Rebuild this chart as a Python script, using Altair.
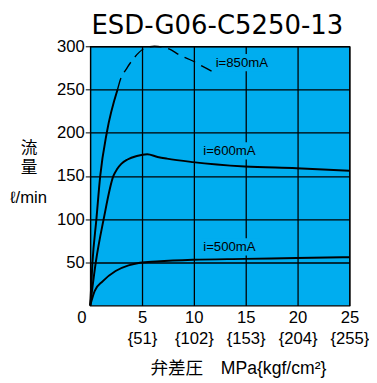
import json
import altair as alt
import pandas as pd

# ---- data ----
s850_x = [0, 0.22, 0.6, 0.97, 1.6, 2.64]
s850_y = [0, 50, 100, 150, 200, 250]

s850d_x = [2.64, 2.9, 3.5, 4.2, 5.15, 6.2, 7.6, 8.6, 9.9, 10.8, 12.1]
s850d_y = [250, 261, 274, 286, 297, 300, 297, 290, 283, 277, 269]

s600_x = [0, 0.54, 1.3, 2.24, 2.6, 3.0, 3.6, 4.5, 5.5, 6.5, 7.4, 9.9, 14.9, 19.9, 25]
s600_y = [0, 50, 100, 150, 158, 164, 169, 173, 175, 172, 170, 166, 161, 159, 156]

s500_x = [0, 0.44, 1.2, 2.45, 3.7, 4.8, 6.4, 9.9, 14.9, 19.9, 25]
s500_y = [0, 17, 28, 40, 46.5, 49.5, 51, 53, 54, 55, 56]

label_text = ["i=850mA", "i=600mA", "i=500mA"]
label_x = [12.1, 10.9, 10.9]
label_y = [281, 179, 68]

x_ticks = [0, 5, 10, 15, 20, 25]
x_kgf = ["", "{51}", "{102}", "{153}", "{204}", "{255}"]
y_ticks = [50, 100, 150, 200, 250, 300]

title_text = "ESD-G06-C5250-13"
x_title = "弁差圧　MPa{kgf/cm²}"
y_title = ["流", "量"]
y_unit = "ℓ/min"

# ---- styling ----
BLUE = "#00adef"
FONT = "Liberation Sans"
JP = "Liberation Sans, Noto Sans CJK JP"


def frame(xs, ys, name):
    return pd.DataFrame({"x": xs, "y": ys, "i": range(len(xs)), "s": name})


solid = pd.concat([frame(s850_x, s850_y, "850"),
                   frame(s600_x, s600_y, "600"),
                   frame(s500_x, s500_y, "500")])
dashed = frame(s850d_x, s850d_y, "850d")

labels = pd.DataFrame({"t": label_text, "x": label_x, "y": label_y})
labels["x0"] = labels["x"] - 0.2
labels["x1"] = labels["x"] + 5.4
labels["y0"] = labels["y"] - 10
labels["y1"] = labels["y"] + 10

xscale = alt.Scale(domain=[0, 25], nice=False, zero=False)
yscale = alt.Scale(domain=[0, 300], nice=False, zero=False)

label_expr = ("datum.value == 0 ? datum.label : [datum.label, "
              + json.dumps(x_kgf) + "[round(datum.value / 5)]]")

xaxis = alt.Axis(values=x_ticks, grid=True, gridColor="black", gridWidth=1.3,
                 ticks=False, domain=False, labelExpr=label_expr,
                 labelLineHeight=22, labelPadding=4, labelFontSize=17,
                 labelFont=FONT, labelColor="black", labelFlush=False,
                 labelOverlap=False,
                 labelOffset={"condition": {"test": "datum.value == 0", "value": -9}, "value": 0},
                 title=x_title, titleX=151, titleY=64, titleBaseline="middle",
                 titleAlign="center", titleFont=JP, titleFontSize=18,
                 titleFontWeight="normal", titleColor="black")

yaxis = alt.Axis(values=y_ticks, grid=True, gridColor="black", gridWidth=1.3,
                 ticks=True, tickSize=5, tickColor="black", tickWidth=1,
                 domain=False, labelPadding=1, labelFontSize=17, labelFont=FONT,
                 labelColor="black", labelFlush=False,
                 title=y_title, titleAngle=0, titleX=-63, titleY=97,
                 titleAlign="center", titleBaseline="top", titleLineHeight=19.5,
                 titleFont=JP, titleFontSize=17, titleFontWeight="normal",
                 titleColor="black")

X = alt.X("x:Q", scale=xscale, axis=xaxis)
Y = alt.Y("y:Q", scale=yscale, axis=yaxis)

solid_lines = alt.Chart(solid).mark_line(
    color="black", strokeWidth=2, interpolate="monotone"
).encode(x=X, y=Y, detail="s:N", order="i:Q")

dashed_line = alt.Chart(dashed).mark_line(
    color="black", strokeWidth=1.4, strokeDash=[12, 7], interpolate="monotone"
).encode(x=X, y=Y, order="i:Q")

boxes = alt.Chart(labels).mark_rect(color=BLUE).encode(
    x=alt.X("x0:Q", scale=xscale, axis=xaxis), x2="x1:Q",
    y=alt.Y("y0:Q", scale=yscale, axis=yaxis), y2="y1:Q")

texts = alt.Chart(labels).mark_text(
    align="left", baseline="middle", fontSize=13.5, font=FONT, color="black"
).encode(x=X, y=Y, text="t:N")

title_mark = alt.Chart(pd.DataFrame({"t": [title_text]})).mark_text(
    font="DejaVu Sans", fontSize=26.5, color="black", align="center",
    baseline="alphabetic"
).encode(text="t:N", x=alt.value(130), y=alt.value(-13))

unit_mark = alt.Chart(pd.DataFrame({"t": [y_unit]})).mark_text(
    font=FONT, fontSize=17, color="black", align="center", baseline="middle"
).encode(text="t:N", x=alt.value(-63), y=alt.value(155))

chart = alt.layer(boxes, solid_lines, dashed_line, texts, title_mark, unit_mark).properties(
    width=265, height=265,
    autosize=alt.AutoSizeParams(type="none"),
    padding={"left": 84, "top": 35, "right": 20, "bottom": 75},
    background="white",
).configure_view(fill=BLUE, stroke="black", strokeWidth=1.2)

chart.save("out.html", embed_options={"renderer": "svg", "actions": False})
